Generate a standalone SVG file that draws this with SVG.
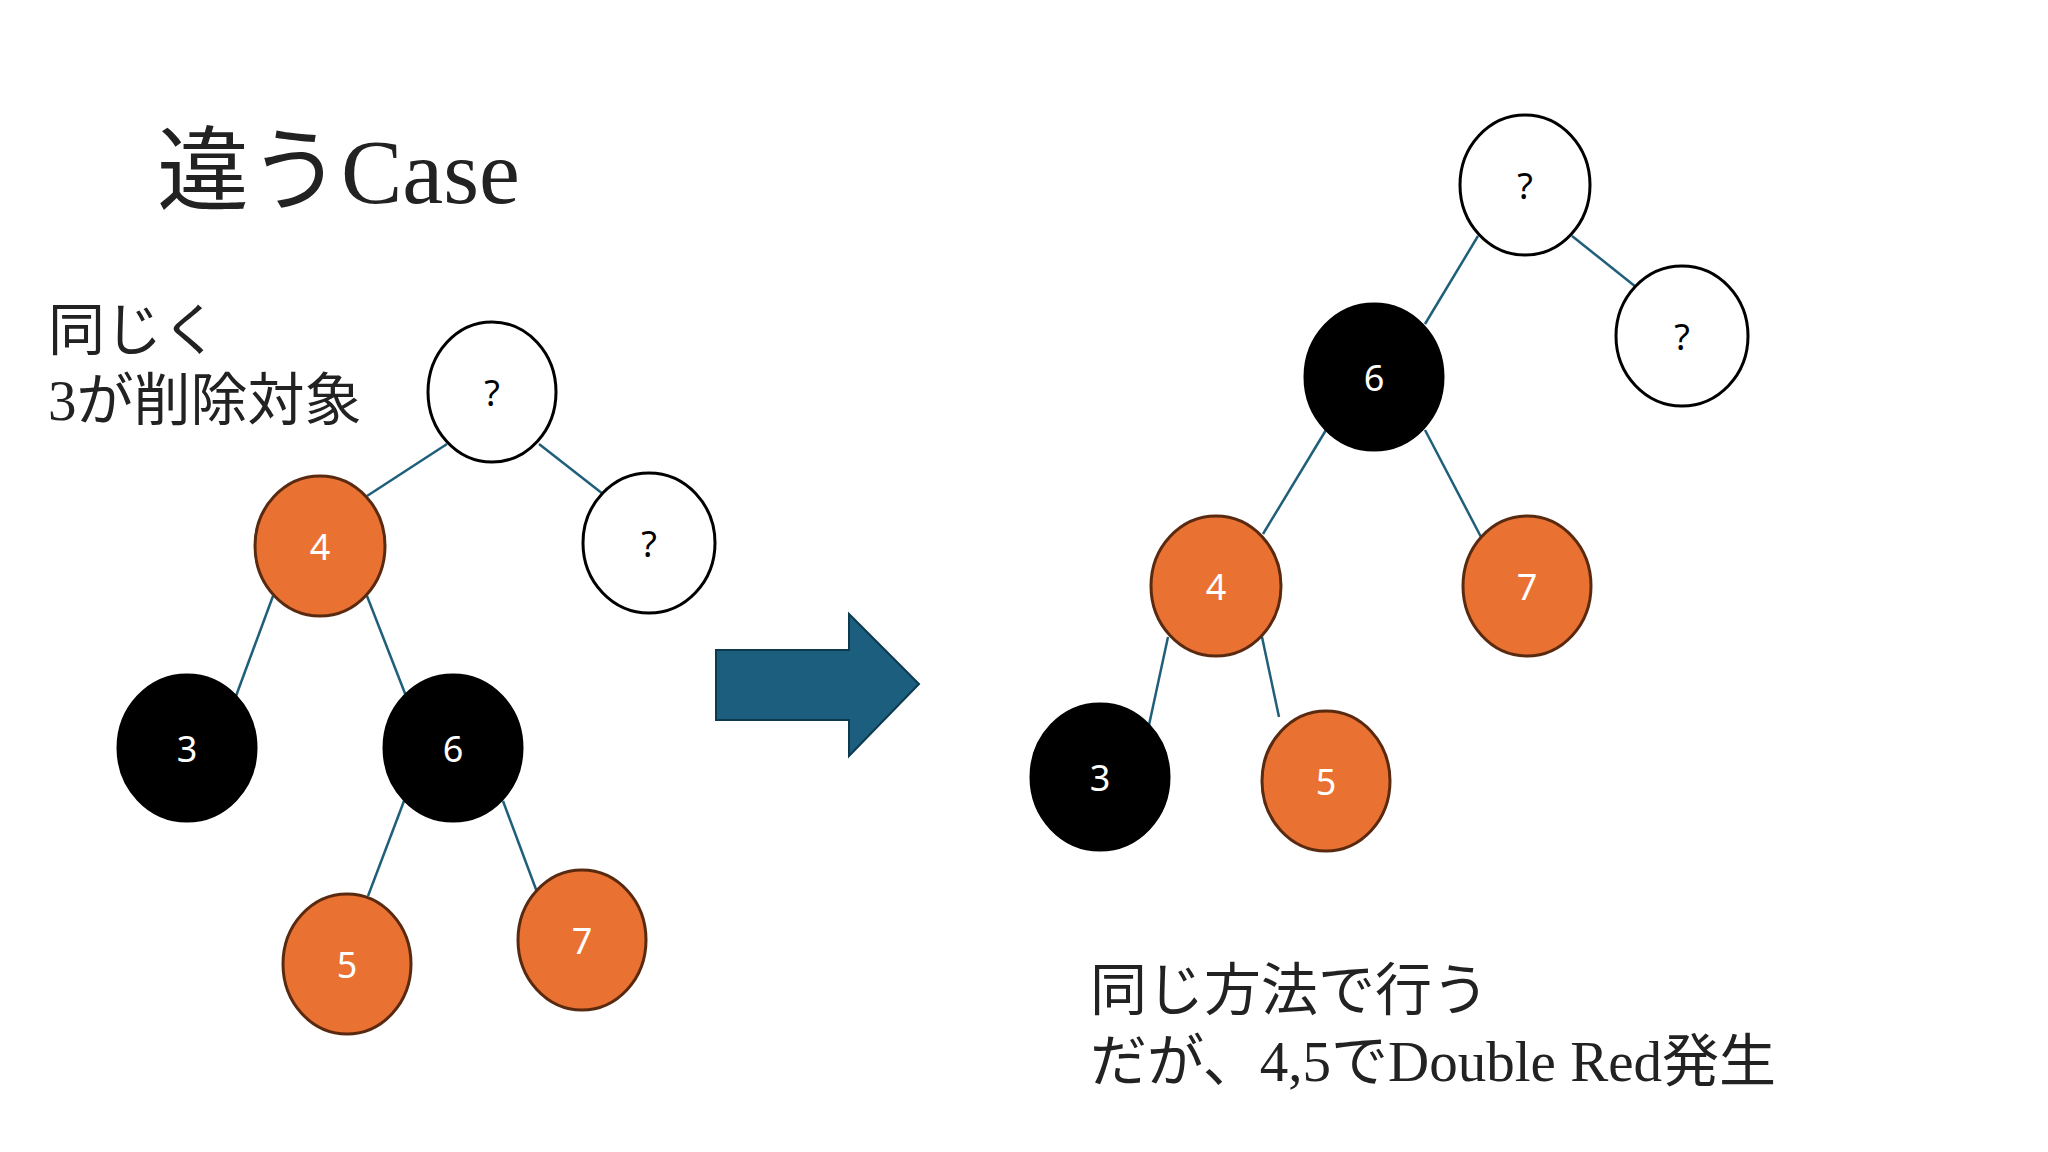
<svg xmlns="http://www.w3.org/2000/svg" width="2048" height="1152" viewBox="0 0 2048 1152">
<style>
.w{fill:#fff;stroke:#000;stroke-width:3}
.o{fill:#E97132;stroke:#5a2a10;stroke-width:3}
.b{fill:#000;stroke:#000;stroke-width:3}
.t{font-family:"Noto Sans","Noto Sans CJK JP",sans-serif;font-size:36px;text-anchor:middle;dominant-baseline:central}
.tw{fill:#fff}
.big{font-family:"Liberation Serif","Noto Sans CJK JP",serif;fill:#222}
#edges line{stroke:#1F5F7A;stroke-width:2.5}
</style>
<rect width="2048" height="1152" fill="#fff"/>
<text class="big" x="157" y="203" font-size="92">違うCase</text>
<text class="big" x="48" y="350" font-size="57">同じく</text>
<text class="big" x="48" y="420" font-size="57">3が削除対象</text>
<text class="big" x="1090" y="1010" font-size="57">同じ方法で行う</text>
<text class="big" x="1090" y="1081" font-size="57">だが、4,5でDouble Red発生</text>
<g id="edges">
<line x1="447" y1="444" x2="367" y2="496"/>
<line x1="539" y1="444" x2="603" y2="494"/>
<line x1="273" y1="596" x2="236" y2="696"/>
<line x1="367" y1="596" x2="406" y2="696"/>
<line x1="404" y1="801" x2="368" y2="896"/>
<line x1="503" y1="801" x2="537" y2="892"/>
<line x1="1478" y1="236" x2="1425" y2="324"/>
<line x1="1572" y1="236" x2="1636" y2="287"/>
<line x1="1326" y1="430" x2="1263" y2="534"/>
<line x1="1425" y1="430" x2="1481" y2="537"/>
<line x1="1168" y1="637" x2="1149" y2="725"/>
<line x1="1262" y1="637" x2="1279" y2="717"/>
</g>
<g id="arrow"><polygon points="716,650 849,650 849,614 919,684 849,756 849,720 716,720" fill="#1B5E7E" stroke="#0e3a50" stroke-width="2"/></g>
<g id="L_root"><ellipse class="w" cx="492" cy="392" rx="64" ry="70"/><text class="t" x="492" y="392">?</text></g>
<g id="L_q"><ellipse class="w" cx="649" cy="543" rx="66" ry="70"/><text class="t" x="649" y="543">?</text></g>
<g id="L_4"><ellipse class="o" cx="320" cy="546" rx="65" ry="70"/><text class="t tw" x="320" y="546">4</text></g>
<g id="L_3"><ellipse class="b" cx="187" cy="748" rx="69" ry="73"/><text class="t tw" x="187" y="748">3</text></g>
<g id="L_6"><ellipse class="b" cx="453" cy="748" rx="69" ry="73"/><text class="t tw" x="453" y="748">6</text></g>
<g id="L_5"><ellipse class="o" cx="347" cy="964" rx="64" ry="70"/><text class="t tw" x="347" y="964">5</text></g>
<g id="L_7"><ellipse class="o" cx="582" cy="940" rx="64" ry="70"/><text class="t tw" x="582" y="940">7</text></g>
<g id="R_root"><ellipse class="w" cx="1525" cy="185" rx="65" ry="70"/><text class="t" x="1525" y="185">?</text></g>
<g id="R_q"><ellipse class="w" cx="1682" cy="336" rx="66" ry="70"/><text class="t" x="1682" y="336">?</text></g>
<g id="R_6"><ellipse class="b" cx="1374" cy="377" rx="69" ry="73"/><text class="t tw" x="1374" y="377">6</text></g>
<g id="R_4"><ellipse class="o" cx="1216" cy="586" rx="65" ry="70"/><text class="t tw" x="1216" y="586">4</text></g>
<g id="R_7"><ellipse class="o" cx="1527" cy="586" rx="64" ry="70"/><text class="t tw" x="1527" y="586">7</text></g>
<g id="R_3"><ellipse class="b" cx="1100" cy="777" rx="69" ry="73"/><text class="t tw" x="1100" y="777">3</text></g>
<g id="R_5"><ellipse class="o" cx="1326" cy="781" rx="64" ry="70"/><text class="t tw" x="1326" y="781">5</text></g>
</svg>
